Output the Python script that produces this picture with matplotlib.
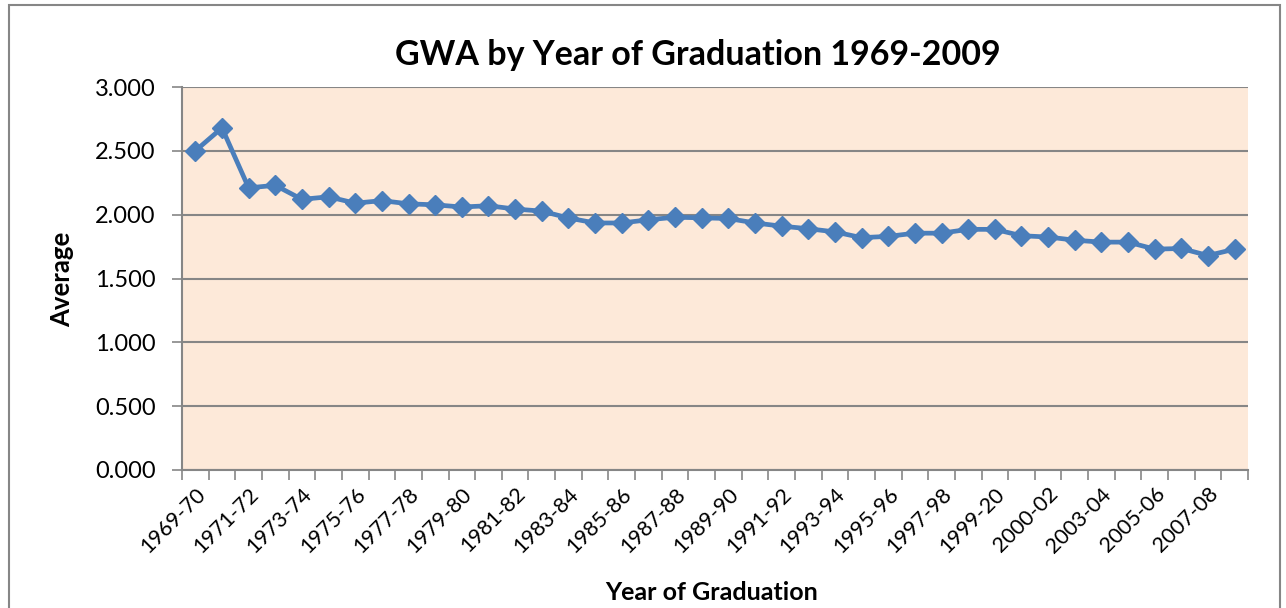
#!/usr/bin/env python3
"""GWA by year of graduation, 1969-2009."""

import matplotlib

matplotlib.use("Agg")
import matplotlib.pyplot as plt
from matplotlib.patches import Rectangle
from matplotlib.ticker import FixedLocator, FormatStrFormatter

years = [
    "1969-70", "1970-71", "1971-72", "1972-73", "1973-74", "1974-75", "1975-76", "1976-77",
    "1977-78", "1978-79", "1979-80", "1980-81", "1981-82", "1982-83", "1983-84", "1984-85",
    "1985-86", "1986-87", "1987-88", "1988-89", "1989-90", "1990-91", "1991-92", "1992-93",
    "1993-94", "1994-95", "1995-96", "1996-97", "1997-98", "1998-99", "1999-20", "2000-01",
    "2000-02", "2002-03", "2003-04", "2004-05", "2005-06", "2006-07", "2007-08", "2008-09",
]
gwa = [
    2.50, 2.68, 2.21, 2.23, 2.12, 2.14, 2.09, 2.11, 2.085, 2.077,
    2.06, 2.07, 2.044, 2.028, 1.974, 1.935, 1.935, 1.96, 1.98, 1.975,
    1.97, 1.935, 1.91, 1.89, 1.865, 1.82, 1.83, 1.855, 1.855, 1.885,
    1.885, 1.835, 1.825, 1.80, 1.785, 1.785, 1.73, 1.735, 1.68, 1.73,
]
y_ticks = [0.0, 0.5, 1.0, 1.5, 2.0, 2.5, 3.0]

FONT = ["Lato", "DejaVu Sans"]
plt.rcParams["font.family"] = FONT

W, H = 1286, 608
fig = plt.figure(figsize=(W / 100, H / 100), dpi=100)
fig.patch.set_facecolor("white")

# outer chart frame
fig.patches.append(Rectangle((9 / W, -0.05), 1271 / W, 1.05 - 5 / H, transform=fig.transFigure,
                             fill=False, edgecolor="#868686", linewidth=1.5))

left, right, top, bottom = 182, 1248, 87, 470
ax = fig.add_axes([left / W, 1 - bottom / H, (right - left) / W, (bottom - top) / H])
ax.set_facecolor("#FDE9D9")

x = list(range(len(years)))
ax.plot(x, gwa, color="#4A7EBB", linewidth=3.4, marker="D", markersize=10.5,
        markeredgecolor="#4A7EBB", zorder=3, clip_on=False)

ax.set_xlim(-0.5, len(years) - 0.5)
ax.set_ylim(0, 3)
ax.set_yticks(y_ticks)
ax.yaxis.set_major_formatter(FormatStrFormatter("%.3f"))
ax.grid(axis="y", color="#868686", linewidth=1.5)
ax.set_axisbelow(True)

ax.xaxis.set_major_locator(FixedLocator(x[::2]))
ax.set_xticklabels(years[::2], rotation=45, ha="right", rotation_mode="anchor")
ax.xaxis.set_minor_locator(FixedLocator([i - 0.5 for i in range(len(years) + 1)]))
ax.tick_params(axis="x", which="major", length=0, pad=10, labelsize=15.5)
ax.tick_params(axis="x", which="minor", length=7, width=1.2, color="#868686", direction="out")
ax.tick_params(axis="y", length=7, width=1.2, color="#868686", direction="out", pad=12, labelsize=17)

for side in ("top", "right"):
    ax.spines[side].set_visible(False)
for side in ("left", "bottom"):
    ax.spines[side].set_color("#868686")
    ax.spines[side].set_linewidth(1.5)

fig.text(712 / W, 1 - 592 / H, "Year of Graduation", ha="center", va="center",
         fontsize=18, fontweight="bold")
fig.text(62 / W, 1 - 279 / H, "Average", ha="center", va="center", rotation=90,
         fontsize=18.5, fontweight="bold")
fig.text(698 / W, 1 - 55 / H, "GWA by Year of Graduation 1969-2009", ha="center", va="center",
         fontsize=24.5, fontweight="bold")

fig.savefig("out.png", dpi=100)
